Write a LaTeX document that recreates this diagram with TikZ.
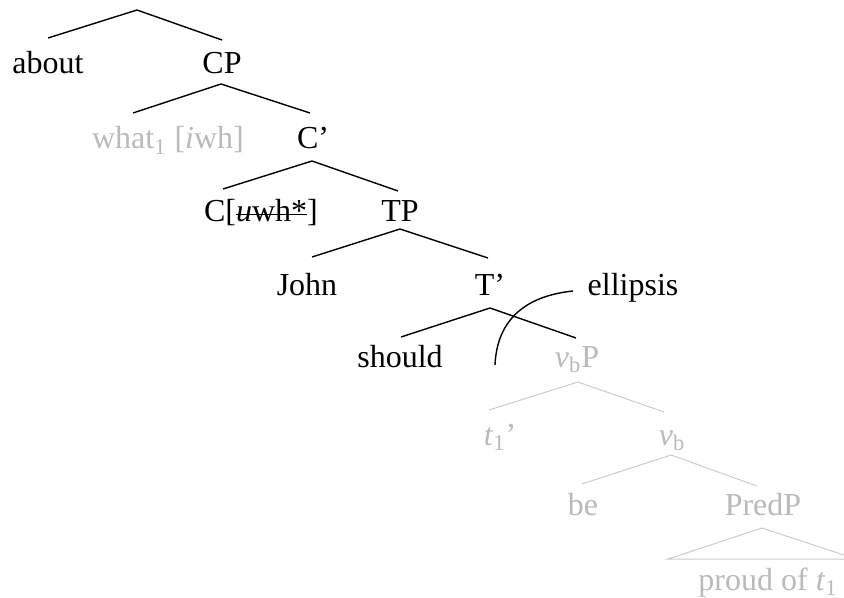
\documentclass[tikz,border=0pt]{standalone}
\usepackage{fontspec}
\setmainfont{Liberation Serif}
\newcommand{\struckout}[1]{\setbox0\hbox{#1}\rlap{\rule[3.4pt]{\wd0}{0.7pt}}\box0}

\begin{document}
\begin{tikzpicture}[
				x=0.5pt, y=-0.5pt,
				every node/.style={font=\fontsize{16}{19}\selectfont, inner sep=0pt},
				word/.style={anchor=base, text=black},
				trace/.style={anchor=base, text=black!27},
				branch/.style={line width=0.7pt, black},
				gone/.style={line width=0.5pt, black!20}
				]
				\useasboundingbox (0,0) rectangle (844,598);
				\clip (0,0) rectangle (844,598);
				
				% Nodes
				\node (about) [word] at (48,74) {about};
				\node (cp) [word] at (222,74) {CP};
				\node (what) [trace] at (168,149) {what\textsubscript{1} [\textit{i}wh]};
				\node (cbar) [word] at (313,149) {C’};
				\node (chead) [word] at (261,222) {C[\struckout{\textit{u}wh*}]};
				\node (tp) [word] at (400,222) {TP};
				\node (john) [word] at (307,295) {John};
				\node (tbar) [word] at (490,295) {T’};
				\node (ellipsis) [word] at (633,295) {ellipsis};
				\node (should) [word] at (400,367) {should};
				\node (vbp) [trace] at (577,367) {\textit{v}\textsubscript{b}P};
				\node (trace1) [trace] at (500,445) {\textit{t}\textsubscript{1}’};
				\node (vb) [trace] at (672,445) {\textit{v}\textsubscript{b}};
				\node (be) [trace] at (583,515) {be};
				\node (predp) [trace] at (763,515) {PredP};
				\node (proud) [trace] at (768,590) {proud of \textit{t}\textsubscript{1}};
				
				% Branch points
				\coordinate (root) at (137,10);
				\coordinate (root-l) at (48,38);
				\coordinate (root-r) at (222,40);
				\coordinate (cp-a) at (221,84);
				\coordinate (cp-l) at (133,113);
				\coordinate (cp-r) at (310,113);
				\coordinate (cbar-a) at (312,161);
				\coordinate (cbar-l) at (223,189);
				\coordinate (cbar-r) at (398,191);
				\coordinate (tp-a) at (400,229);
				\coordinate (tp-l) at (312,257);
				\coordinate (tp-r) at (488,258);
				\coordinate (tbar-a) at (490,308);
				\coordinate (tbar-l) at (401,337);
				\coordinate (tbar-r) at (576,338);
				\coordinate (vbp-a) at (578,382);
				\coordinate (vbp-l) at (489,410);
				\coordinate (vbp-r) at (664,412);
				\coordinate (vb-a) at (671,455);
				\coordinate (vb-l) at (582,484);
				\coordinate (vb-r) at (757,486);
				\coordinate (predp-a) at (762,528);
				\coordinate (predp-l) at (668,559);
				\coordinate (predp-r) at (856,559);
				\coordinate (ell-s) at (573,291);
				\coordinate (ell-e) at (495,365);
				
				% Lines
				\draw [branch] (root-l) -- (root) -- (root-r);
				\draw [branch] (cp-l) -- (cp-a) -- (cp-r);
				\draw [branch] (cbar-l) -- (cbar-a) -- (cbar-r);
				\draw [branch] (tp-l) -- (tp-a) -- (tp-r);
				\draw [branch] (tbar-l) -- (tbar-a) -- (tbar-r);
				\draw [gone] (vbp-l) -- (vbp-a) -- (vbp-r);
				\draw [gone] (vb-l) -- (vb-a) -- (vb-r);
				\draw [gone] (predp-l) -- (predp-a) -- (predp-r) -- cycle;
				\draw [branch] (ell-s) .. controls (525,296) and (497,320) .. (ell-e);
			\end{tikzpicture}
\end{document}
